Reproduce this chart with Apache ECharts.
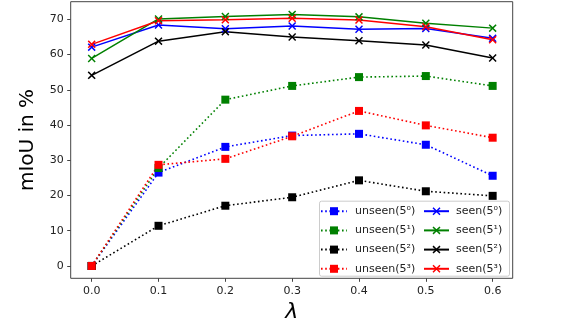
<!DOCTYPE html>
<html>
<head>
<meta charset="utf-8">
<script src="https://cdn.jsdelivr.net/npm/echarts@6/dist/echarts.min.js"></script>
<style>html,body{margin:0;padding:0;background:#fff}#c{width:568px;height:335px}</style>
</head>
<body>
<div id="c"></div>
<script>
const lambdas = [0.0, 0.1, 0.2, 0.3, 0.4, 0.5, 0.6];
const xTicks = [0.0, 0.1, 0.2, 0.3, 0.4, 0.5, 0.6];
const yTicks = [0, 10, 20, 30, 40, 50, 60, 70];

const unseen0 = [0, 26.5, 33.8, 37.0, 37.5, 34.4, 25.6];
const unseen1 = [0, 27.8, 47.2, 51.1, 53.6, 53.9, 51.1];
const unseen2 = [0, 11.4, 17.1, 19.5, 24.3, 21.2, 19.9];
const unseen3 = [0, 28.7, 30.4, 36.8, 44.0, 39.9, 36.4];

const seen0 = [62.1, 68.4, 67.3, 68.1, 67.2, 67.4, 64.6];
const seen1 = [58.9, 70.1, 70.8, 71.4, 70.7, 68.9, 67.5];
const seen2 = [54.1, 63.8, 66.5, 65.0, 63.9, 62.7, 59.0];
const seen3 = [62.9, 69.6, 69.9, 70.3, 69.8, 67.9, 64.2];

const names = {
  unseen: ['unseen(5\u2070)', 'unseen(5\u00b9)', 'unseen(5\u00b2)', 'unseen(5\u00b3)'],
  seen: ['seen(5\u2070)', 'seen(5\u00b9)', 'seen(5\u00b2)', 'seen(5\u00b3)']
};
const colors = ['#0000ff', '#008000', '#000000', '#ff0000'];

const X_PATH = 'path://M0,1.3L1.3,0L5,3.7L8.7,0L10,1.3L6.3,5L10,8.7L8.7,10L5,6.3L1.3,10L0,8.7L3.7,5Z';

function pairs(vals) { return lambdas.map((l, i) => [l, vals[i]]); }

const unseenVals = [unseen0, unseen1, unseen2, unseen3];
const seenVals = [seen0, seen1, seen2, seen3];

const series = [];
unseenVals.forEach((v, i) => {
  series.push({
    name: names.unseen[i], type: 'line', data: pairs(v),
    symbol: 'rect', symbolSize: 8,
    lineStyle: { color: colors[i], width: 1.6, type: [1.6, 2.6] },
    itemStyle: { color: colors[i] },
    z: 2
  });
});
seenVals.forEach((v, i) => {
  series.push({
    name: names.seen[i], type: 'line', data: pairs(v),
    symbol: X_PATH, symbolSize: 8,
    lineStyle: { color: colors[i], width: 1.5 },
    itemStyle: { color: colors[i] },
    z: 3
  });
});

const chart = echarts.init(document.getElementById('c'), null, { renderer: 'canvas' });
const axisCol = '#444';
const font = 'DejaVu Sans';
chart.setOption({
  animation: false,
  backgroundColor: '#fff',
  textStyle: { fontFamily: font },
  grid: {
    left: 70.7, right: 55.3, top: 1.7, bottom: 56.7,
    show: true, borderColor: axisCol, borderWidth: 1, backgroundColor: 'transparent'
  },
  xAxis: {
    type: 'value', min: -0.0314, max: 0.63,
    name: '\u03bb', nameLocation: 'middle', nameGap: 23,
    nameTextStyle: { fontFamily: font, fontStyle: 'italic', fontSize: 22, color: '#000' },
    axisLine: { show: false, onZero: false },
    splitLine: { show: false },
    axisTick: { show: true, length: 3.5, lineStyle: { color: axisCol }, customValues: xTicks },
    axisLabel: { fontFamily: font, fontSize: 11, color: '#222', margin: 7, customValues: xTicks,
      formatter: v => v.toFixed(1) }
  },
  yAxis: {
    type: 'value', min: -3.5, max: 75,
    name: 'mIoU in %', nameLocation: 'middle', nameGap: 33, nameRotate: 90,
    nameTextStyle: { fontFamily: font, fontSize: 20, color: '#000' },
    axisLine: { show: false, onZero: false },
    splitLine: { show: false },
    axisTick: { show: true, length: 3.5, lineStyle: { color: axisCol }, customValues: yTicks },
    axisLabel: { fontFamily: font, fontSize: 11, color: '#222', margin: 7, customValues: yTicks,
      formatter: v => String(v) }
  },
  graphic: [{
    type: 'rect', left: 319, top: 200.7, z: 50,
    shape: { width: 190, height: 75, r: 2 },
    style: { fill: 'rgba(255,255,255,0.85)', stroke: '#cccccc', lineWidth: 1 }
  }],
  legend: [{
    data: names.unseen, orient: 'vertical', left: 320, top: 205.7,
    itemWidth: 26, itemHeight: 10, itemGap: 8.2, z: 60,
    textStyle: { fontFamily: font, fontSize: 11, color: '#222', padding: [0, 0, 0, 3] },
    padding: 0
  }, {
    data: names.seen, orient: 'vertical', left: 423, top: 205.7,
    itemWidth: 25, itemHeight: 10, itemGap: 8.2, z: 60,
    textStyle: { fontFamily: font, fontSize: 11, color: '#222', padding: [0, 0, 0, 2] },
    padding: 0
  }],
  series: series
});
</script>
</body>
</html>
